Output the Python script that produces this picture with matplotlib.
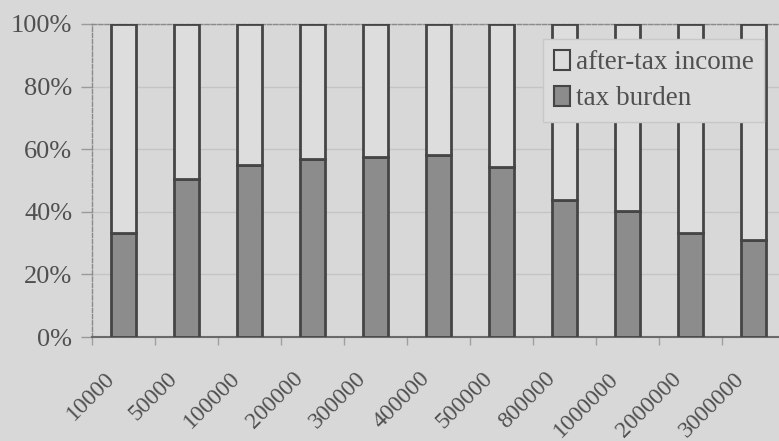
import matplotlib
matplotlib.use("Agg")
import matplotlib.pyplot as plt
from matplotlib.patches import Patch
from matplotlib.transforms import ScaledTranslation
import numpy as np

# Income levels and share of income taken by tax (percent)
incomes = ["10000", "50000", "100000", "200000", "300000", "400000",
           "500000", "800000", "1000000", "2000000", "3000000"]
tax_burden = [33.1, 50.4, 55.0, 56.8, 57.4, 58.0, 54.2, 43.7, 40.3, 33.2, 31.1]
after_tax = [100 - t for t in tax_burden]
y_ticks = [0, 20, 40, 60, 80, 100]
y_tick_labels = ["0%", "20%", "40%", "60%", "80%", "100%"]

bg = "#d8d8d8"
light = "#dddddd"
dark = "#8c8c8c"
edge = "#454545"
text_color = "#505050"

plt.rcParams["font.family"] = ["Liberation Serif", "DejaVu Serif"]

fig = plt.figure(figsize=(7.79, 4.41), dpi=100, facecolor=bg)
W, H = 779, 441
left, right, top, bottom = 91.7, 784.7, 24, 337
ax = fig.add_axes([left / W, 1 - bottom / H, (right - left) / W, (bottom - top) / H])
ax.set_facecolor(bg)

x = np.arange(len(incomes))
width = 0.4
ax.bar(x, tax_burden, width, color=dark, edgecolor=edge, linewidth=2, zorder=3)
ax.bar(x, after_tax, width, bottom=tax_burden, color=light, edgecolor=edge,
       linewidth=2, zorder=3)

ax.set_xlim(-0.5, len(incomes) - 0.5)
ax.set_ylim(0, 100)

ax.set_yticks(y_ticks)
ax.set_yticklabels(y_tick_labels, fontsize=19, color=text_color)
ax.tick_params(axis="y", length=8, width=1, color="#9a9a9a", pad=6)
ax.grid(axis="y", color="#c4c4c4", linewidth=1, zorder=0)

ax.set_xticks(x)
ax.set_xticklabels(incomes, rotation=45, ha="right", va="center",
                   rotation_mode="anchor", fontsize=17, color=text_color)
ax.tick_params(axis="x", length=0, pad=22)
shift = ScaledTranslation(-12 / 100, -8 / 100, fig.dpi_scale_trans)
for lbl in ax.get_xticklabels():
    lbl.set_transform(lbl.get_transform() + shift)
ax.set_xticks(np.arange(len(incomes) + 1) - 0.5, minor=True)
ax.tick_params(axis="x", which="minor", length=6, color="#a0a0a0", width=1)

for side in ["top", "left", "right"]:
    ax.spines[side].set_color("#8a8a8a")
    ax.spines[side].set_linestyle((0, (3, 1.5)))
    ax.spines[side].set_linewidth(1)
ax.spines["bottom"].set_color("#6a6a6a")
ax.spines["bottom"].set_linestyle((0, (3, 1)))
ax.spines["bottom"].set_linewidth(1.5)

handles = [Patch(facecolor=light, edgecolor=edge, linewidth=1.5, label="after-tax income"),
           Patch(facecolor=dark, edgecolor=edge, linewidth=1.5, label="tax burden")]
leg = ax.legend(handles=handles, loc="upper left",
                bbox_to_anchor=((543 - left) / (right - left), (bottom - 39) / (bottom - top)),
                fontsize=19.5, frameon=True, fancybox=False, handlelength=0.6,
                handleheight=0.75, handletextpad=0.2, labelspacing=0.4,
                borderpad=0.4, borderaxespad=0)
leg.get_frame().set_facecolor("#dcdcdc")
leg.get_frame().set_edgecolor("#c8c8c8")
leg.get_frame().set_linewidth(1)
leg.get_frame().set_alpha(1)
leg.set_zorder(5)
for t in leg.get_texts():
    t.set_color(text_color)

fig.savefig("out.png", dpi=100, facecolor=bg)
